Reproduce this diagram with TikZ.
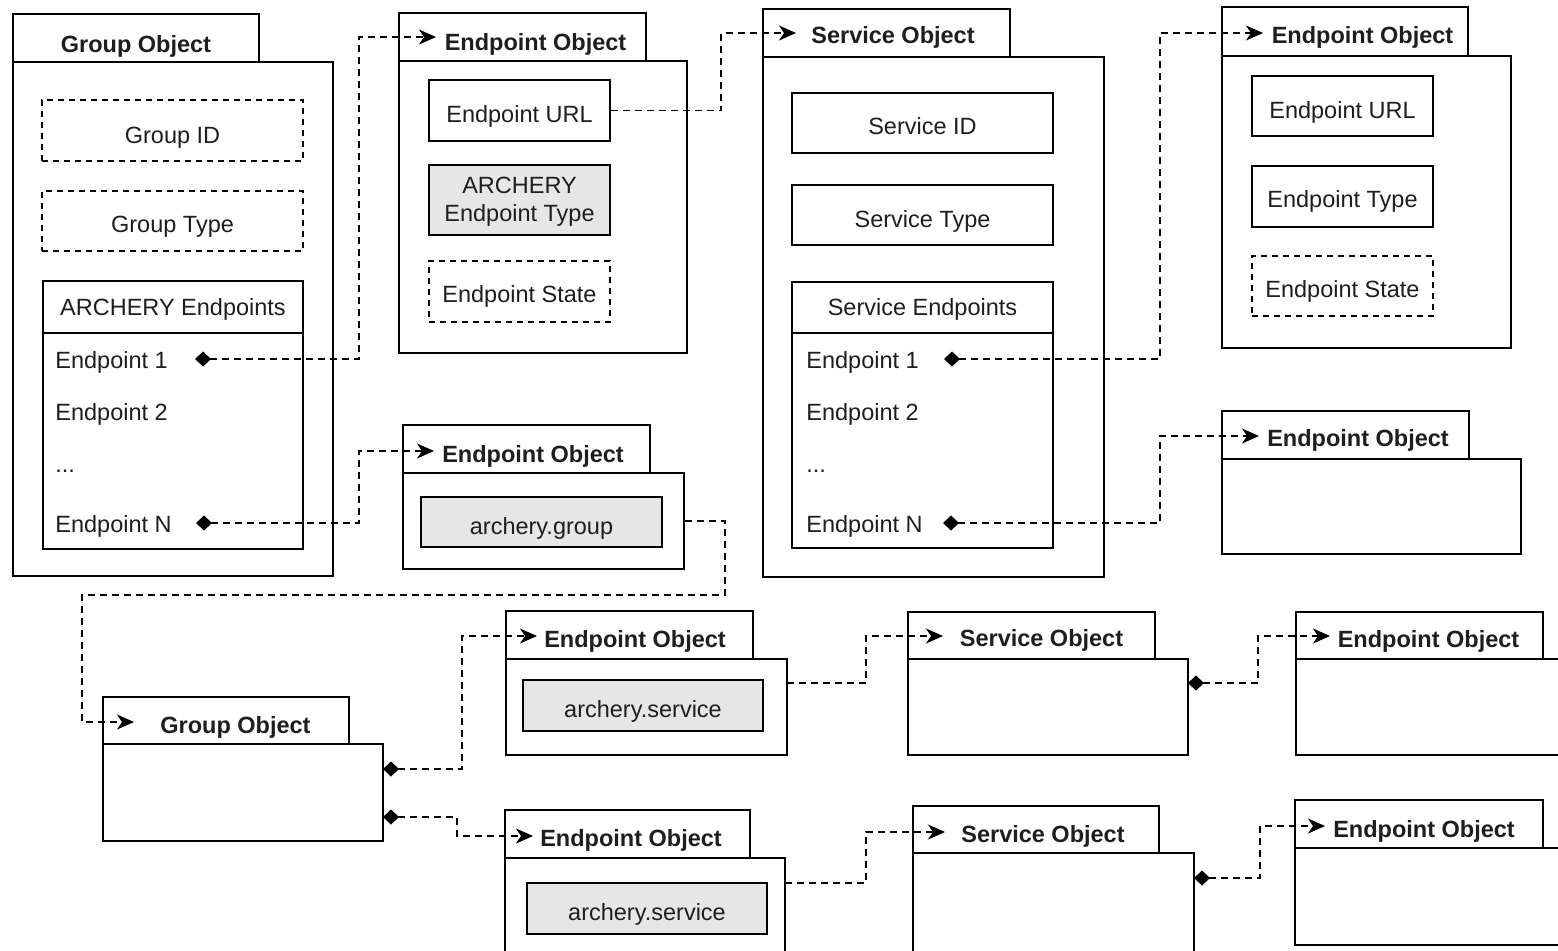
\documentclass[tikz,border=0pt]{standalone}
\usepackage{fontspec}
\setmainfont{Liberation Sans}
\usetikzlibrary{arrows.meta,fit}
\definecolor{boxgray}{HTML}{E6E6E6}
\definecolor{txt}{HTML}{1E1E1E}
\newcommand{\dgfs}{\fontsize{11.75pt}{14pt}\selectfont}
\begin{document}
\begin{tikzpicture}[x=0.5pt,y=-0.5pt,
  rect/.style={draw=black,line width=1pt,inner sep=0pt,fill=white},
  drect/.style={rect,dash pattern=on 3pt off 2.5pt},
  grect/.style={rect,fill=boxgray},
  lbl/.style={inner sep=0pt,anchor=base,text=txt,font=\dgfs},
  item/.style={lbl,anchor=base west},
  ttl/.style={lbl,font=\dgfs\bfseries},
  conn/.style={draw=black,line width=0.7pt,dash pattern=on 3.5pt off 2.5pt,
    -{Stealth[length=8.5pt,width=7.5pt,inset=2.5pt]}},
  comp/.style={conn,{Diamond[length=8pt,width=7.5pt]}-{Stealth[length=8.5pt,width=7.5pt,inset=2.5pt]}},
  plain/.style={conn}
]
\useasboundingbox (0,0) rectangle (1558,950);
\clip (0,0) rectangle (1558,950);

% ---------- Group Object (top left)
\node[rect,fit={(13,14)(259,62)}] (go1tab) {};
\node[rect,fit={(13,62)(333,576)}] (go1body) {};
\node[drect,fit={(42,100)(303,161)}] (gid) {};
\node[drect,fit={(42,191)(303,251)}] (gtype) {};
\node[rect,fit={(43,281)(303,333)}] (aehead) {};
\node[rect,fit={(43,333)(303,549)}] (aebody) {};

% ---------- Endpoint Object (top, 2nd column)
\node[rect,fit={(399,13)(646,61)}] (eo1tab) {};
\node[rect,fit={(399,61)(687,353)}] (eo1body) {};
\node[rect,fit={(429,80)(610,141)}] (eo1url) {};
\node[grect,fit={(429,165)(610,235)}] (eo1type) {};
\node[drect,fit={(429,261)(610,322)}] (eo1state) {};

% ---------- Endpoint Object (archery.group)
\node[rect,fit={(403,425)(650,473)}] (eo2tab) {};
\node[rect,fit={(403,473)(684,569)}] (eo2body) {};
\node[grect,fit={(421,497)(662,547)}] (eo2grp) {};

% ---------- Service Object (top)
\node[rect,fit={(763,9)(1010,57)}] (so1tab) {};
\node[rect,fit={(763,57)(1104,577)}] (so1body) {};
\node[rect,fit={(792,93)(1053,153)}] (sid) {};
\node[rect,fit={(792,185)(1053,245)}] (stype) {};
\node[rect,fit={(792,282)(1053,333)}] (sehead) {};
\node[rect,fit={(792,333)(1053,548)}] (sebody) {};

% ---------- Endpoint Object (top right)
\node[rect,fit={(1222,7)(1468,56)}] (eo3tab) {};
\node[rect,fit={(1222,56)(1511,348)}] (eo3body) {};
\node[rect,fit={(1252,76)(1433,136)}] (eo3url) {};
\node[rect,fit={(1252,166)(1433,227)}] (eo3type) {};
\node[drect,fit={(1252,256)(1433,316)}] (eo3state) {};

% ---------- Endpoint Object (right middle)
\node[rect,fit={(1222,411)(1469,459)}] (eo4tab) {};
\node[rect,fit={(1222,459)(1521,554)}] (eo4body) {};

% ---------- Group Object (bottom left)
\node[rect,fit={(103,697)(349,744)}] (go2tab) {};
\node[rect,fit={(103,744)(383,841)}] (go2body) {};

% ---------- middle row
\node[rect,fit={(506,611)(753,659)}] (eo5tab) {};
\node[rect,fit={(506,659)(787,755)}] (eo5body) {};
\node[grect,fit={(523,680)(763,731)}] (eo5svc) {};
\node[rect,fit={(908,612)(1155,659)}] (so2tab) {};
\node[rect,fit={(908,659)(1188,755)}] (so2body) {};
\node[rect,fit={(1296,612)(1543,659)}] (eo6tab) {};
\node[rect,fit={(1296,659)(1590,755)}] (eo6body) {};

% ---------- bottom row
\node[rect,fit={(505,810)(750,858)}] (eo7tab) {};
\node[rect,fit={(505,858)(785,975)}] (eo7body) {};
\node[grect,fit={(527,883)(767,934)}] (eo7svc) {};
\node[rect,fit={(913,806)(1159,853)}] (so3tab) {};
\node[rect,fit={(913,853)(1194,975)}] (so3body) {};
\node[rect,fit={(1295,800)(1543,848)}] (eo8tab) {};
\node[rect,fit={(1295,848)(1590,945)}] (eo8body) {};

% ---------- titles
\node[ttl] (go1t) at (136,52) {Group Object};
\node[ttl] (eo1t) at (535.5,50) {Endpoint Object};
\node[ttl] (eo2t) at (533,462) {Endpoint Object};
\node[ttl] (so1t) at (893,43) {Service Object};
\node[ttl] (eo3t) at (1362.5,43) {Endpoint Object};
\node[ttl] (eo4t) at (1358,446) {Endpoint Object};
\node[ttl] (go2t) at (235.5,733) {Group Object};
\node[ttl] (eo5t) at (635,647) {Endpoint Object};
\node[ttl] (so2t) at (1041.5,646) {Service Object};
\node[ttl] (eo6t) at (1428.5,647) {Endpoint Object};
\node[ttl] (eo7t) at (631,846) {Endpoint Object};
\node[ttl] (so3t) at (1043,842) {Service Object};
\node[ttl] (eo8t) at (1424,837) {Endpoint Object};

% ---------- field labels
\node[lbl] (gidt) at (172.5,143) {Group ID};
\node[lbl] (gtypet) at (172.5,232) {Group Type};
\node[lbl] (aeheadt) at (173,315) {ARCHERY Endpoints};
\node[lbl] (eo1urlt) at (519.5,122) {Endpoint URL};
\node[lbl,anchor=center,align=center] (eo1typet) at (519.5,202) {ARCHERY\\Endpoint Type};
\node[lbl] (eo1statet) at (519.5,302) {Endpoint State};
\node[lbl] (eo2grpt) at (541.5,534) {archery.group};
\node[lbl] (sidt) at (922.5,134) {Service ID};
\node[lbl] (stypet) at (922.5,227) {Service Type};
\node[lbl] (seheadt) at (922.5,315) {Service Endpoints};
\node[lbl] (eo3urlt) at (1342.5,118) {Endpoint URL};
\node[lbl] (eo3typet) at (1342.5,207) {Endpoint Type};
\node[lbl] (eo3statet) at (1342.5,297) {Endpoint State};
\node[lbl] (eo5svct) at (643,717) {archery.service};
\node[lbl] (eo7svct) at (647,920) {archery.service};

% ---------- list items
\node[item] (ge1) at (55,368) {Endpoint 1};
\node[item] (ge2) at (55,420) {Endpoint 2};
\node[item] (gedots) at (55,472) {...};
\node[item] (geN) at (55,532) {Endpoint N};
\node[item] (se1) at (806,368) {Endpoint 1};
\node[item] (se2) at (806,420) {Endpoint 2};
\node[item] (sedots) at (806,472) {...};
\node[item] (seN) at (806,532) {Endpoint N};

% ---------- connector ends
\coordinate (d1) at (195,359);
\coordinate (dN) at (196,523);
\coordinate (s1) at (944,359);
\coordinate (sN) at (943,523);
\coordinate (g2a) at (383,769);
\coordinate (g2b) at (383,817);
\coordinate (e5o) at (787,683);
\coordinate (s2o) at (1188,683);
\coordinate (e7o) at (785,883);
\coordinate (s3o) at (1194,878);
\coordinate (t-eo1) at (436,37);
\coordinate (t-eo2) at (434,451);
\coordinate (t-so1) at (796,33);
\coordinate (t-eo3) at (1263,33);
\coordinate (t-eo4) at (1259,436);
\coordinate (t-go2) at (134,722);
\coordinate (t-eo5) at (537,636);
\coordinate (t-eo7) at (533,836);
\coordinate (t-so2) at (943,636);
\coordinate (t-eo6) at (1330,636);
\coordinate (t-so3) at (945,832);
\coordinate (t-eo8) at (1325,826);

% ---------- connectors
\draw[comp] (d1) -- ++(164,0) |- (t-eo1);
\draw[comp] (dN) -- ++(163,0) |- (t-eo2);
\draw[plain] (eo1url.east) -- ++(110,0) |- (t-so1);
\draw[comp] (s1) -- ++(216,0) |- (t-eo3);
\draw[comp] (sN) -- ++(217,0) |- (t-eo4);
\draw[plain] (eo2body.east) -- ++(40,0) |- (82,595) |- (t-go2);
\draw[comp] (g2a) -- ++(79,0) |- (t-eo5);
\draw[comp] (g2b) -- ++(74,0) |- (t-eo7);
\draw[plain] (e5o) -- ++(79,0) |- (t-so2);
\draw[comp] (s2o) -- ++(70,0) |- (t-eo6);
\draw[plain] (e7o) -- ++(81,0) |- (t-so3);
\draw[comp] (s3o) -- ++(66,0) |- (t-eo8);
\end{tikzpicture}
\end{document}
